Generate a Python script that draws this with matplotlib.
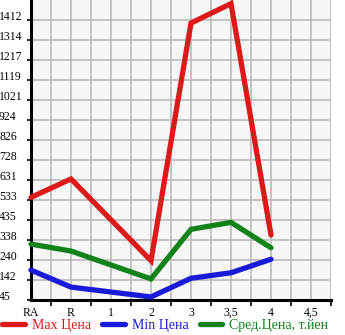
import numpy as np
import matplotlib
matplotlib.use("Agg")
import matplotlib.pyplot as plt

# categorias do eixo x e valores (None = sem dado)
categories = ['RA', 'R', '1', '2', '3', '3,5', '4', '4,5']
max_price = [546, 636, None, 237, 1397, 1492, 362, None]
min_price = [191, 108, None, 60, 151, 178, 244, None]
avg_price = [318, 284, None, 148, 390, 424, 300, None]
ytick_labels = ['45', '142', '240', '338', '435', '533', '631', '728',
                '826', '924', '1021', '1119', '1217', '1314', '1412']

series_names = ['Max Цена', 'Min Цена', 'Сред.Цена, т.йен']
series_colors = ['#dd1a1a', '#1a1adb', '#12821a']

plt.rcParams['font.family'] = ['Liberation Serif', 'DejaVu Serif']

fig = plt.figure(figsize=(3.45, 3.35), dpi=100)
ax = fig.add_axes([31 / 345, 35 / 335, 300 / 345, 300 / 335])
ax.set_facecolor('#f6f6f6')

for vals, name, col in zip([max_price, min_price, avg_price], series_names, series_colors):
    xs = [i for i, v in enumerate(vals) if v is not None]
    ys = [v for v in vals if v is not None]
    ax.plot(xs, ys, color=col, lw=3.8, label=name, zorder=3,
            solid_capstyle='round', solid_joinstyle='miter', clip_on=False)

# eixo y
yvals = [float(s) for s in ytick_labels]
step = (yvals[-1] - yvals[0]) / (len(yvals) - 1)
yticks = np.linspace(yvals[0], yvals[-1], len(yvals))
ax.set_ylim(yvals[0], yvals[-1] + step)
ax.set_yticks(yticks)
ax.set_yticklabels(ytick_labels)
ax.tick_params(axis='y', length=3, width=1.2, pad=20, labelsize=8.5)
for t in ax.get_yticklabels():
    t.set_horizontalalignment('left')
    t.set_verticalalignment('baseline')

# eixo x
xmax = len(categories) - 0.5
ax.set_xlim(0, xmax)
ax.set_xticks(range(len(categories)))
ax.set_xticklabels(categories)
ax.set_xticks(np.arange(0.5, xmax + 0.01, 1.0), minor=True)
ax.tick_params(axis='x', which='major', length=0, pad=5, labelsize=8.5)
ax.tick_params(axis='x', which='minor', length=4, width=1.2)

# grade
for xv in np.arange(0.5, xmax + 0.01, 0.5):
    ax.axvline(xv, color='#bababa', lw=1.2, zorder=1)
for yv in yticks[1:]:
    ax.axhline(yv, color='#bababa', lw=1.2, zorder=1)

for s in ['top', 'right']:
    ax.spines[s].set_visible(False)
ax.spines['left'].set_linewidth(2.2)
ax.spines['bottom'].set_linewidth(2.2)

fig.legend(loc='lower left', bbox_to_anchor=(0.005, 0.008), ncol=3, frameon=False,
           fontsize=10, labelcolor='linecolor', handlelength=1.65,
           handletextpad=0.5, columnspacing=0.8, borderpad=0.0,
           borderaxespad=0.0)

fig.savefig('out.png', dpi=100)
